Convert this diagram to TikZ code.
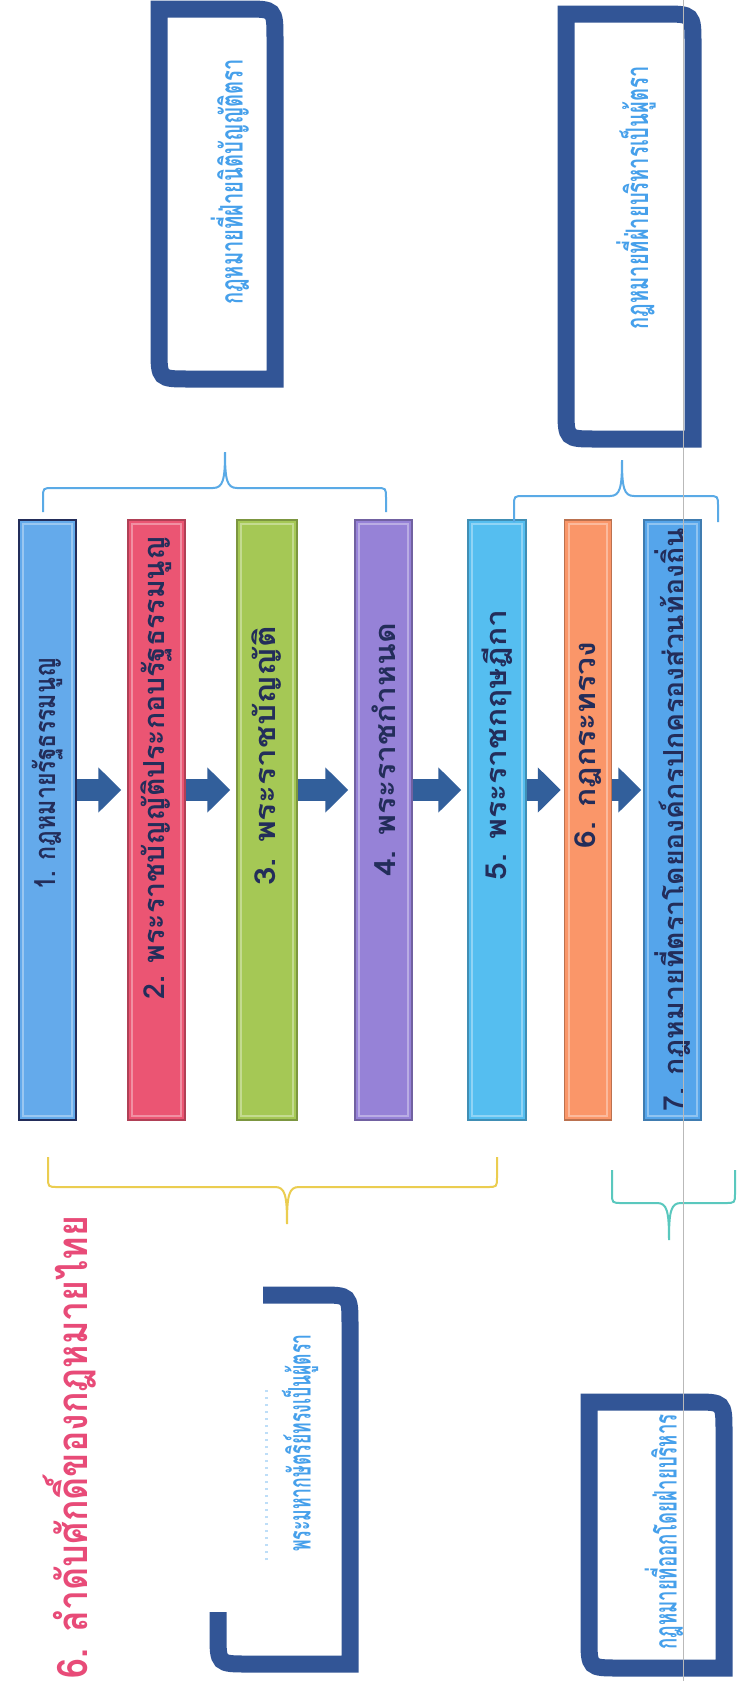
\documentclass[tikz,border=0pt]{standalone}
\usepackage{fontspec}
\usepackage{tikz}
\usetikzlibrary{arrows.meta,positioning,calc}
\newfontfamily\thaifont[Script=Thai]{Loma}
\newcommand{\narrow}[2][0.8]{\scalebox{#1}[1]{#2}}

\definecolor{barone}{RGB}{100,170,235}
\definecolor{bartwo}{RGB}{235,85,115}
\definecolor{barthree}{RGB}{165,200,85}
\definecolor{barfour}{RGB}{150,130,215}
\definecolor{barfive}{RGB}{85,190,240}
\definecolor{barsix}{RGB}{250,150,105}
\definecolor{barseven}{RGB}{85,165,235}
\definecolor{bartextc}{RGB}{35,45,90}
\definecolor{arrowc}{RGB}{50,95,155}
\definecolor{framec}{RGB}{50,85,150}
\definecolor{boxtextc}{RGB}{70,160,235}
\definecolor{titlec}{RGB}{232,75,120}
\definecolor{bracetop}{RGB}{90,170,230}
\definecolor{braceyel}{RGB}{235,205,80}
\definecolor{braceteal}{RGB}{90,200,190}

\tikzset{
  lawbar/.style={draw=#1!75!black, fill=#1, line width=1.5pt, minimum height=600pt, inner sep=0pt},
  bartext/.style={rotate=90, text=bartextc, inner sep=0pt, font=\thaifont\bfseries\fontsize{29}{32}\selectfont},
  flowarrow/.style={draw=arrowc, line width=22pt, -{Triangle[length=23pt,width=44pt]}},
  boxframe/.style={draw=framec, line width=17pt},
  boxtext/.style={rotate=90, text=boxtextc, inner sep=0pt, font=\thaifont\bfseries\fontsize{31}{34}\selectfont},
  bracket/.style={line width=2pt}
}

\begin{document}
\begin{tikzpicture}[x=1pt,y=-1pt]
\fill[white] (0,0) rectangle (748,1681);
\useasboundingbox (0,0) rectangle (748,1681);

% the seven levels
\node[lawbar=barone, draw=bartextc, minimum width=57pt] (b1) at (47.5,820) {};
\node[lawbar=bartwo, minimum width=57pt] (b2) at (156.5,820) {};
\node[lawbar=barthree, minimum width=60pt] (b3) at (267,820) {};
\node[lawbar=barfour, minimum width=57pt] (b4) at (383.5,820) {};
\node[lawbar=barfive, minimum width=58pt] (b5) at (497,820) {};
\node[lawbar=barsix, minimum width=47pt] (b6) at (588,820) {};
\node[lawbar=barseven, minimum width=57pt] (b7) at (672.5,820) {};
\foreach \b in {b1,b2,b3,b4,b5,b6,b7}
  \draw[white, opacity=0.35, line width=2pt] ([shift={(5pt,5pt)}]\b.south west) rectangle ([shift={(-5pt,-5pt)}]\b.north east);

\node[bartext] (t1) at ([yshift=46pt]b1.center) {\narrow{1. กฎหมายรัฐธรรมนูญ}};
\node[bartext] (t2) at ([yshift=52pt]b2.center) {\narrow[0.98]{2. พระราชบัญญัติประกอบรัฐธรรมนูญ}};
\node[bartext] (t3) at ([yshift=64pt]b3.center) {\narrow[1.15]{3. พระราชบัญญัติ}};
\node[bartext] (t4) at ([yshift=70pt]b4.center) {\narrow[1.1]{4. พระราชกำหนด}};
\node[bartext] (t5) at ([yshift=75pt]b5.center) {\narrow[1.1]{5. พระราชกฤษฎีกา}};
\node[bartext] (t6) at ([yshift=75pt]b6.center) {\narrow[1.1]{6. กฎกระทรวง}};
\node[bartext] (t7) at ([yshift=0pt]b7.center) {\narrow[0.98]{7. กฎหมายที่ตราโดยองค์กรปกครองส่วนท้องถิ่น}};

% arrows between the levels
\coordinate (ay) at (0,790);
\draw[flowarrow] (b1.east |- ay) -- ([xshift=-6pt]b2.west |- ay);
\draw[flowarrow] (b2.east |- ay) -- ([xshift=-6pt]b3.west |- ay);
\draw[flowarrow] (b3.east |- ay) -- ([xshift=-6pt]b4.west |- ay);
\draw[flowarrow] (b4.east |- ay) -- ([xshift=-6pt]b5.west |- ay);
\draw[flowarrow] (b5.east |- ay) -- ([xshift=-3pt]b6.west |- ay);
\draw[flowarrow] (b6.east |- ay) -- ([xshift=-2pt]b7.west |- ay);

% braces
\draw[bracket, draw=bracetop] (43,512) -- (43,498) .. controls (43,488) .. (53,488) -- (213,488)
  .. controls (223,488) and (225,480) .. (225,452) .. controls (225,480) and (227,488) .. (237,488)
  -- (376,488) .. controls (386,488) .. (386,498) -- (386,512);
\draw[bracket, draw=bracetop] (514,522) -- (514,506) .. controls (514,496) .. (524,496) -- (610,496)
  .. controls (620,496) and (622,488) .. (622,460) .. controls (622,488) and (624,496) .. (634,496)
  -- (708,496) .. controls (718,496) .. (718,506) -- (718,522);
\draw[bracket, draw=braceyel] (48,1157) -- (48,1177) .. controls (48,1187) .. (58,1187) -- (275,1187)
  .. controls (285,1187) and (287,1195) .. (287,1224) .. controls (287,1195) and (289,1187) .. (299,1187)
  -- (487,1187) .. controls (497,1187) .. (497,1177) -- (497,1157);
\draw[bracket, draw=braceteal] (612,1170) -- (612,1193) .. controls (612,1203) .. (622,1203) -- (657,1203)
  .. controls (667,1203) and (669,1211) .. (669,1240) .. controls (669,1211) and (671,1203) .. (681,1203)
  -- (725,1203) .. controls (735,1203) .. (735,1193) -- (735,1170);

% frames
\draw[boxframe] (159,9) -- (245,9) .. controls (275,9) .. (275,39) -- (275,379)
  -- (189,379) .. controls (159,379) .. (159,349) -- cycle;
\draw[boxframe] (566,14) -- (663,14) .. controls (693,14) .. (693,44) -- (693,439)
  -- (596,439) .. controls (566,439) .. (566,409) -- cycle;
\draw[boxframe] (263,1295) -- (320,1295) .. controls (350,1295) .. (350,1325) -- (350,1664)
  -- (248,1664) .. controls (218,1664) .. (218,1634) -- (218,1612);
\draw[boxframe] (589,1402) -- (694,1402) .. controls (724,1402) .. (724,1432) -- (724,1668)
  -- (619,1668) .. controls (589,1668) .. (589,1638) -- cycle;

\node[boxtext] (boxA) at (230,182) {\narrow[0.65]{กฎหมายที่ฝ่ายนิติบัญญัติตรา}};
\node[boxtext] (boxB) at (636,198) {\narrow[0.65]{กฎหมายที่ฝ่ายบริหารเป็นผู้ตรา}};
\node[boxtext] (boxC) at (300,1443) {\narrow[0.57]{พระมหากษัตริย์ทรงเป็นผู้ตรา}};
\draw[boxtextc!35, line width=3pt, dash pattern=on 2pt off 5pt] (266,1560) -- (266,1390);
\node[boxtext] (boxD) at (664,1532) {\narrow[0.6]{กฎหมายที่ออกโดยฝ่ายบริหาร}};

% title
\node[rotate=90, text=titlec, inner sep=0pt, font=\thaifont\bfseries\fontsize{42}{46}\selectfont] (title) at (70,1447) {\narrow[0.85]{6. ลำดับศักดิ์ของกฎหมายไทย}};

\draw[gray!55, line width=0.8pt] (683,0) -- (683,1681);
\end{tikzpicture}
\end{document}
